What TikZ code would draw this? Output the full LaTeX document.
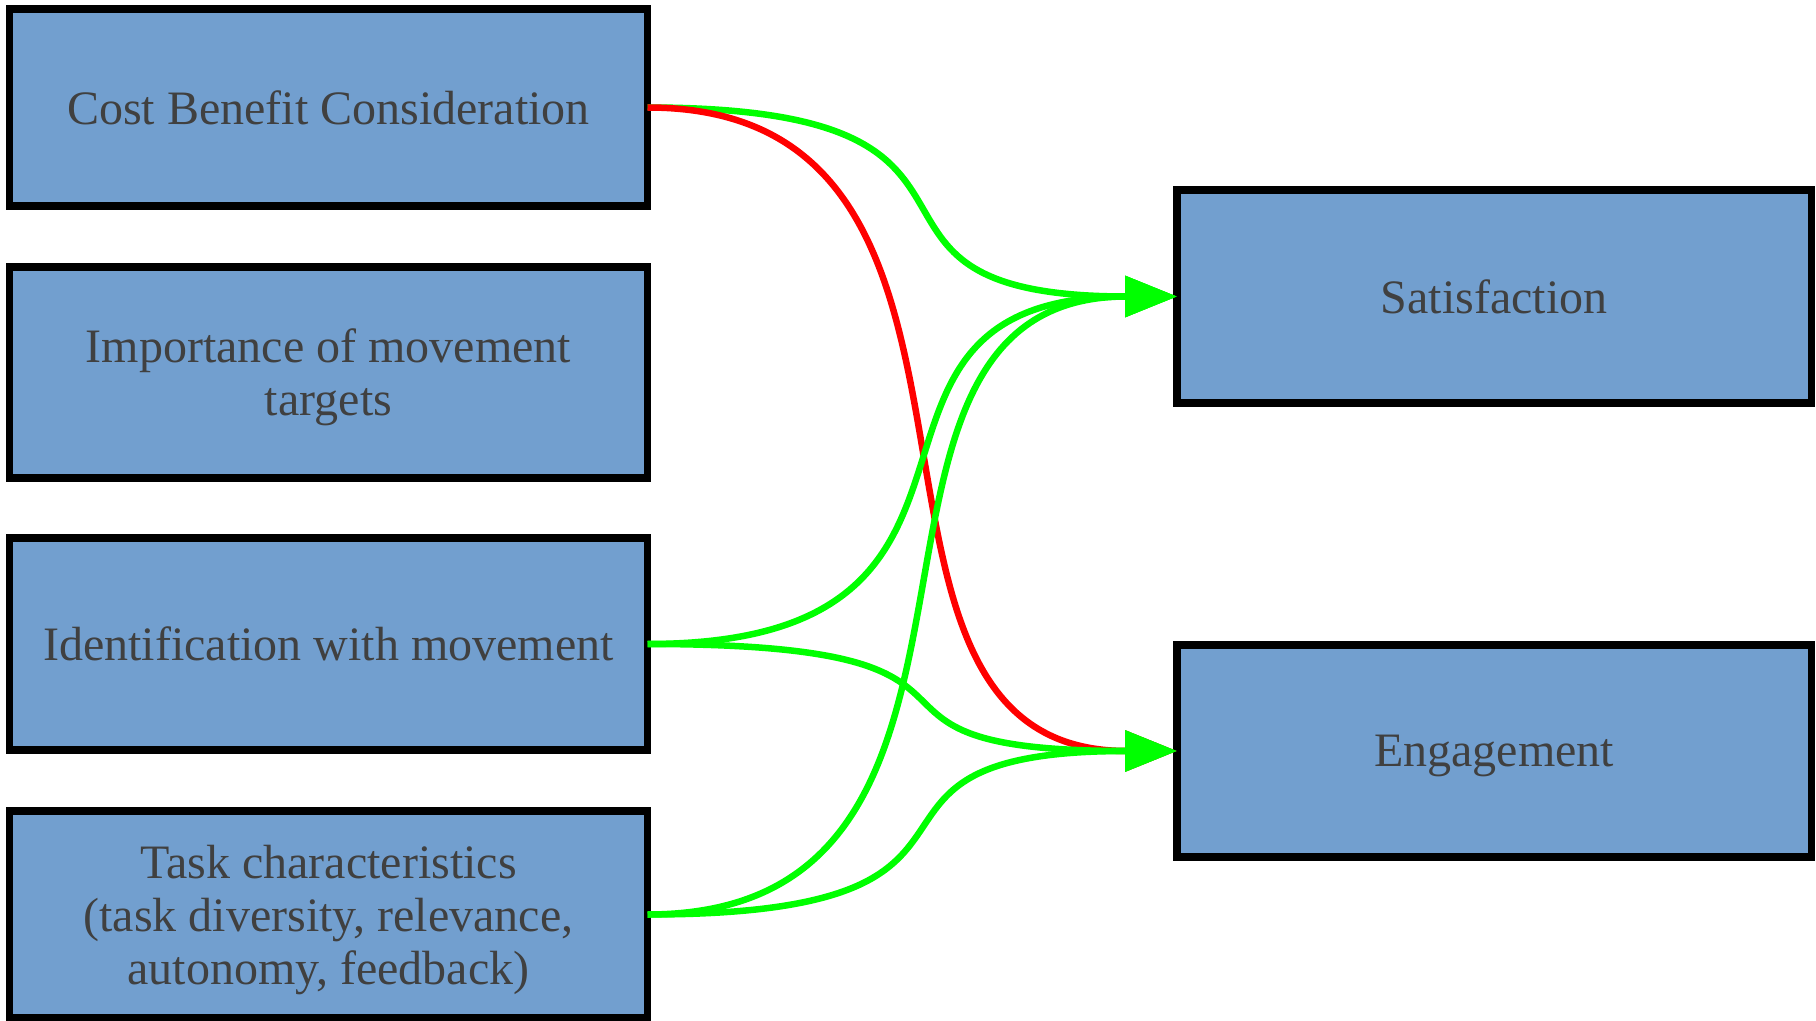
\documentclass[tikz,border=0pt]{standalone}
\usepackage{fontspec}
\setmainfont{Liberation Serif}
\usetikzlibrary{arrows.meta}

\definecolor{boxFill}{HTML}{729FCF}
\definecolor{boxText}{HTML}{404040}
\definecolor{posGreen}{HTML}{00FF00}
\definecolor{negRed}{HTML}{FF0000}

\begin{document}
\begin{tikzpicture}[x=0.5pt,y=-0.5pt,
		factor/.style={draw=black,fill=boxFill,line width=3.75pt,inner sep=0pt,outer sep=0pt,
			minimum width=319pt,text=boxText,align=center,text depth=0pt,font=\fontsize{24}{26.5}\selectfont},
		outcome/.style={factor,minimum width=317.25pt,minimum height=106pt},
		link/.style={line width=3.25pt,-{Triangle[length=26pt,width=20pt]}},
		posLink/.style={link,draw=posGreen},
		negLink/.style={link,draw=negRed}]
		\newcommand*{\bendOut}{410}
		\newcommand*{\bendIn}{375}

		\useasboundingbox (0,0) rectangle (1816,1021);

		\coordinate(Cost) at	(328.5,107.5);
		\coordinate(Imp) at	(328.5,372.5);
		\coordinate(Ident) at	(328.5,644);
		\coordinate(Task) at	(328.5,914.5);
		\coordinate(Sat) at	(1494.25,296.5);
		\coordinate(Eng) at	(1494.25,751);

		\node (cost) at (Cost)[factor,minimum height=98.5pt]{Cost Benefit Consideration};
		\node (imp) at (Imp)[factor,minimum height=105.5pt]{Importance of movement\\targets};
		\node (ident) at (Ident)[factor,minimum height=106pt]{Identification with movement};
		\node (task) at (Task)[factor,minimum height=103.5pt]{Task characteristics\\(task diversity, relevance,\\autonomy, feedback)};

		\node (sat) at (Sat)[outcome,minimum height=106.5pt]{Satisfaction};
		\node (eng) at (Eng)[outcome]{Engagement};

		\draw[posLink] (cost.east) .. controls +(\bendOut,0) and +(-\bendIn,0) .. (sat.west);
		\draw[negLink] (cost.east) .. controls +(\bendOut,0) and +(-\bendIn,0) .. (eng.west);
		\draw[posLink] (ident.east) .. controls +(\bendOut,0) and +(-\bendIn,0) .. (sat.west);
		\draw[posLink] (ident.east) .. controls +(\bendOut,0) and +(-\bendIn,0) .. (eng.west);
		\draw[posLink] (task.east) .. controls +(\bendOut,0) and +(-\bendIn,0) .. (sat.west);
		\draw[posLink] (task.east) .. controls +(\bendOut,0) and +(-\bendIn,0) .. (eng.west);
\end{tikzpicture}
\end{document}
